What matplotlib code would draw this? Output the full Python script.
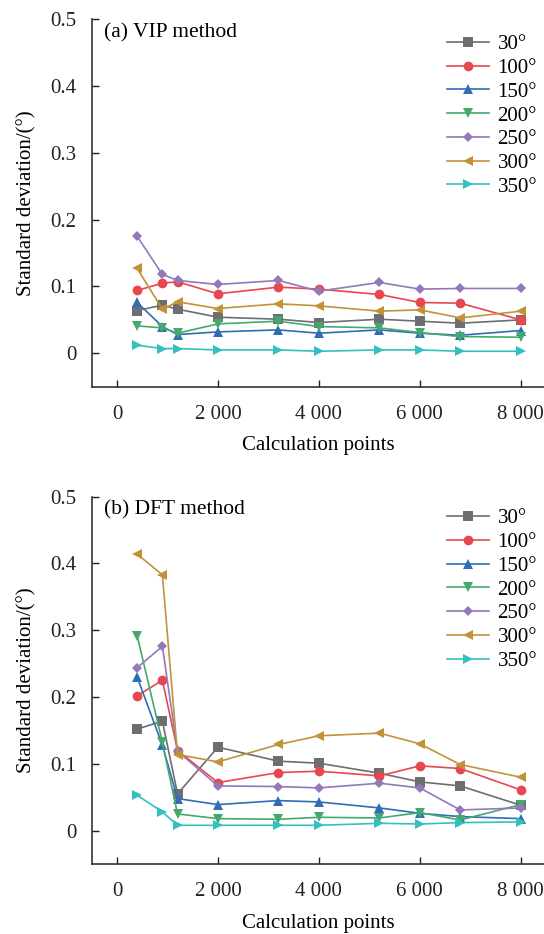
import numpy as np
import matplotlib
matplotlib.use("Agg")
import matplotlib.pyplot as plt
import matplotlib.ticker as mticker

plt.rcParams["font.family"] = ["Liberation Serif", "DejaVu Serif"]
plt.rcParams["mathtext.fontset"] = "stix"

# ── Data ──────────────────────────────────────────────────────────────────
points = [400, 900, 1200, 2000, 3200, 4000, 5200, 6000, 6800, 8000]
angles = ["30°", "100°", "150°", "200°", "250°", "300°", "350°"]

vip_30  = [0.064, 0.072, 0.066, 0.054, 0.051, 0.046, 0.051, 0.048, 0.045, 0.050]
vip_100 = [0.094, 0.105, 0.107, 0.089, 0.099, 0.096, 0.088, 0.076, 0.075, 0.050]
vip_150 = [0.076, 0.040, 0.028, 0.032, 0.035, 0.030, 0.035, 0.030, 0.027, 0.034]
vip_200 = [0.041, 0.038, 0.030, 0.044, 0.048, 0.040, 0.038, 0.031, 0.025, 0.024]
vip_250 = [0.175, 0.118, 0.109, 0.103, 0.109, 0.093, 0.106, 0.096, 0.097, 0.097]
vip_300 = [0.127, 0.066, 0.077, 0.067, 0.074, 0.071, 0.063, 0.065, 0.053, 0.063]
vip_350 = [0.012, 0.007, 0.007, 0.005, 0.005, 0.003, 0.005, 0.005, 0.003, 0.003]

dft_30  = [0.152, 0.164, 0.055, 0.125, 0.104, 0.101, 0.086, 0.073, 0.067, 0.038]
dft_100 = [0.202, 0.225, 0.120, 0.072, 0.087, 0.089, 0.082, 0.097, 0.093, 0.061]
dft_150 = [0.230, 0.128, 0.048, 0.039, 0.045, 0.043, 0.034, 0.026, 0.021, 0.018]
dft_200 = [0.292, 0.132, 0.025, 0.018, 0.017, 0.020, 0.019, 0.027, 0.016, 0.039]
dft_250 = [0.244, 0.276, 0.119, 0.067, 0.066, 0.064, 0.071, 0.064, 0.031, 0.034]
dft_300 = [0.414, 0.383, 0.114, 0.103, 0.129, 0.142, 0.146, 0.130, 0.099, 0.080]
dft_350 = [0.053, 0.028, 0.008, 0.008, 0.008, 0.008, 0.011, 0.010, 0.012, 0.013]

vip = [vip_30, vip_100, vip_150, vip_200, vip_250, vip_300, vip_350]
dft = [dft_30, dft_100, dft_150, dft_200, dft_250, dft_300, dft_350]

colors  = ["#6e6e70", "#e8474f", "#2f6db5", "#45a96e", "#9478bb", "#c39238", "#33c0c0"]
markers = ["s", "o", "^", "v", "D", "<", ">"]
msizes  = [6.5, 7, 7.5, 7.5, 5.5, 7.5, 7.5]

# ── Figure ────────────────────────────────────────────────────────────────
fig = plt.figure(figsize=(5.44, 9.34), dpi=100)
ax_a = fig.add_axes([0.1686, 0.586, 0.8314, 0.3934])
ax_b = fig.add_axes([0.1686, 0.0749, 0.8314, 0.3933])


def draw(ax, series, title, leg_y):
    for s, c, m, ms, lab in zip(series, colors, markers, msizes, angles):
        ax.plot(points, s, color=c, marker=m, markersize=ms, lw=1.2,
                markeredgewidth=0, label=lab)
    ax.set_xlim(-500, 8460)
    ax.set_ylim(-0.05, 0.5)
    ax.set_xticks([0, 2000, 4000, 6000, 8000])
    ax.set_yticks([0, 0.1, 0.2, 0.3, 0.4, 0.5])
    ax.xaxis.set_major_formatter(
        mticker.FuncFormatter(lambda x, _: f"{x:,.0f}".replace(",", " ")))
    ax.yaxis.set_major_formatter(mticker.FuncFormatter(lambda y, _: f"{y:g}"))
    ax.tick_params(direction="in", length=5, width=1, labelsize=15,
                   colors="#222222")
    ax.tick_params(axis="x", pad=13)
    ax.tick_params(axis="y", pad=11)
    for side in ("top", "right"):
        ax.spines[side].set_visible(False)
    for side in ("left", "bottom"):
        ax.spines[side].set_linewidth(1.2)
        ax.spines[side].set_color("#333333")
    ax.set_xlabel("Calculation points", fontsize=15, labelpad=9)
    ax.set_ylabel("Standard deviation/(°)", fontsize=15, labelpad=10)
    ax.text(0.027, 0.964, title, transform=ax.transAxes, fontsize=15.5,
            va="center", ha="left")
    ax.legend(loc="upper right", bbox_to_anchor=(0.985, leg_y), frameon=False,
              fontsize=15, handlelength=2.0, handletextpad=0.43,
              labelspacing=0.2, borderpad=0, borderaxespad=0)


draw(ax_a, vip, "(a) VIP method", 0.958)
draw(ax_b, dft, "(b) DFT method", 0.967)

fig.savefig("out.png", dpi=100)
